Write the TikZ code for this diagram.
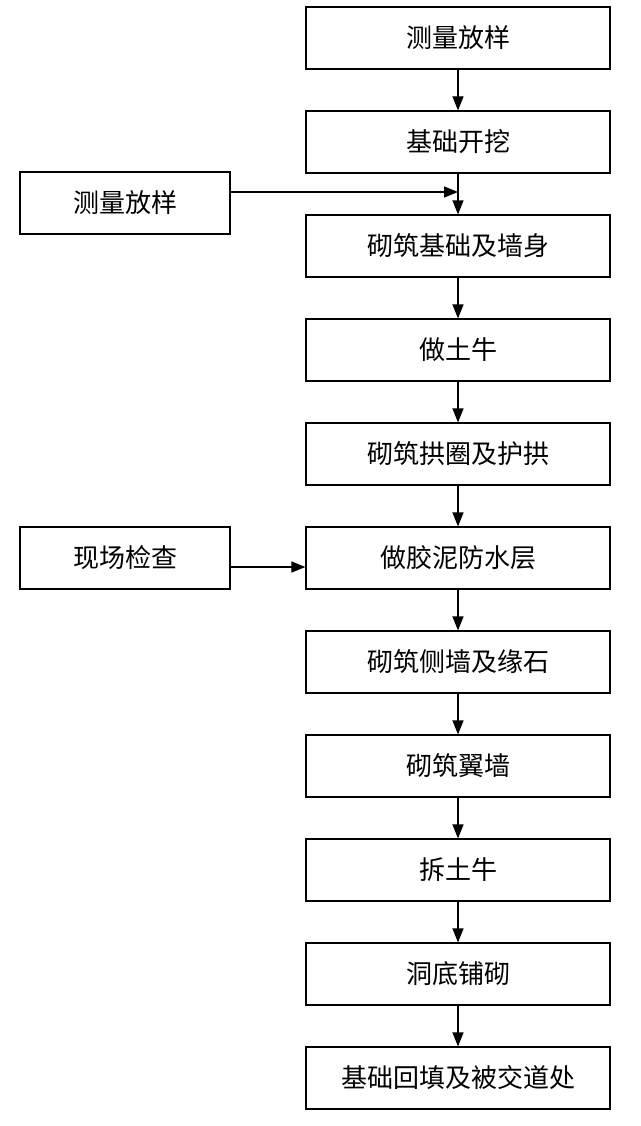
\documentclass[tikz,border=0pt]{standalone}
\usepackage{fontspec}
\newfontfamily\cjk{Noto Sans CJK SC}
\usetikzlibrary{arrows.meta}
\begin{document}
\begin{tikzpicture}[x=1pt,y=-1pt,
  box/.style={draw,line width=1.2pt,minimum width=304pt,minimum height=62pt,font=\cjk\fontsize{26}{30}\selectfont,inner sep=0pt},
  sbox/.style={box,minimum width=210pt},
  arr/.style={line width=1.2pt,-{Triangle[length=14pt,width=11pt]}}]
\useasboundingbox (0,0) rectangle (640,1126);
\foreach \t [count=\i from 0] in {测量放样,基础开挖,砌筑基础及墙身,做土牛,砌筑拱圈及护拱,做胶泥防水层,砌筑侧墙及缘石,砌筑翼墙,拆土牛,洞底铺砌,基础回填及被交道处}{
  \node[box] (b\i) at (458,{38+104*\i}) {\t};
}
\foreach \i [evaluate=\i as \j using int(\i+1)] in {0,...,9}{
  \draw[arr] (b\i.south) -- (b\j.north);
}
\node[sbox] (l1) at (125,203) {测量放样};
\node[sbox] (l2) at (125,558) {现场检查};
\coordinate (j1) at (458,192);
\draw[arr] (l1.east |- j1) -- (j1);
\draw[arr] (l2.east |- 0,567) -- (b5.west |- 0,567);
\end{tikzpicture}
\end{document}
